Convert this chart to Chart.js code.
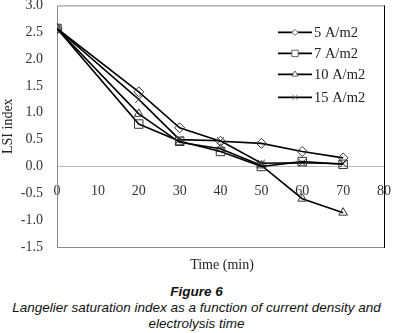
<!DOCTYPE html>
<html>
<head>
<meta charset="utf-8">
<script src="https://cdn.jsdelivr.net/npm/chart.js@4/dist/chart.umd.min.js"></script>
<style>
  body { margin: 0; background: #fff; width: 393px; height: 333px; overflow: hidden; }
  #wrap { position: relative; width: 407px; height: 289px; margin-top: -17px; }
  .cap { width: 393px; font-family: "Liberation Sans", Arial, sans-serif; font-style: italic; font-size: 13.5px; color: #111; text-align: center; line-height: 16px; }
  .cap b { display: block; font-size: 13.5px; }
</style>
</head>
<body>
<div id="wrap"><canvas id="lsiChart"></canvas></div>
<div class="cap" style="margin-top: 12px;"><b>Figure 6</b>Langelier saturation index as a function of current density and<br>electrolysis time</div>
<script>
// DATA
const times = [0, 20, 30, 40, 50, 60, 70];
const labels = ['5 A/m2', '7 A/m2', '10 A/m2', '15 A/m2'];
const lsi5 = [2.57, 1.39, 0.72, 0.47, 0.43, 0.28, 0.16];
const lsi7 = [2.57, 0.79, 0.47, 0.28, 0.0, 0.09, 0.04];
const lsi10 = [2.57, 0.98, 0.45, 0.33, 0.02, -0.60, -0.86];
const lsi15 = [2.57, 1.25, 0.50, 0.48, 0.06, 0.07, 0.05];
const yTicks = [-1.5, -1.0, -0.5, 0.0, 0.5, 1.0, 1.5, 2.0, 2.5, 3.0];
const xTicks = [0, 10, 20, 30, 40, 50, 60, 70, 80];

const series = [lsi5, lsi7, lsi10, lsi15];
const styles = ['rectRot', 'rect', 'triangle', 'crossRot'];
const radii = [5, 6, 5, 5];
const legendRadii = [3, 4.5, 3.5, 3.5];
const legendRows = [27, 48, 69, 92]; // offsets below plot top

const serif = '"Liberation Serif", "Times New Roman", serif';

function toPoints(vals) {
  return vals.map((v, i) => ({ x: times[i], y: v }));
}

// plot frame + legend + x title
const decor = {
  id: 'decor',
  beforeDatasetsDraw(chart) {
    const { ctx } = chart;
    const L = chart.scales.x.left, R = chart.scales.x.right;
    const T = chart.scales.y.top, B = chart.scales.y.bottom;
    ctx.save();
    ctx.strokeStyle = '#8a8a8a';
    ctx.lineWidth = 1;
    ctx.beginPath();
    ctx.moveTo(R, T + 0.5);
    ctx.lineTo(L + 0.5, T + 0.5);
    ctx.lineTo(L + 0.5, B + 0.5);
    ctx.lineTo(R, B + 0.5);
    ctx.stroke();
    ctx.strokeStyle = '#000';
    ctx.beginPath();
    ctx.moveTo(R + 0.5, T);
    ctx.lineTo(R + 0.5, B + 1);
    ctx.stroke();
    ctx.restore();
  },
  afterDraw(chart) {
    const { ctx } = chart;
    const T = chart.scales.y.top, B = chart.scales.y.bottom;
    ctx.save();
    ctx.font = '14.5px ' + serif;
    ctx.textBaseline = 'middle';
    chart.data.datasets.forEach((ds, i) => {
      const y = T + legendRows[i];
      const x0 = 278;
      ctx.strokeStyle = '#000';
      ctx.lineWidth = 1.6;
      ctx.beginPath();
      ctx.moveTo(x0, y);
      ctx.lineTo(x0 + 34, y);
      ctx.stroke();
      ctx.strokeStyle = '#666';
      ctx.fillStyle = '#fff';
      ctx.lineWidth = 1;
      Chart.helpers.drawPoint(ctx, { pointStyle: ds.pointStyle, radius: legendRadii[i], borderWidth: 1 }, x0 + 17, y);
      ctx.fillStyle = '#222';
      ctx.fillText(ds.label, x0 + 36, y + 1);
    });
    ctx.textAlign = 'center';
    ctx.font = '14px ' + serif;
    ctx.fillText('Time (min)', 222, B + 18);
    ctx.restore();
  }
};

new Chart(document.getElementById('lsiChart'), {
  type: 'line',
  data: {
    datasets: series.map((vals, i) => ({
      label: labels[i],
      data: toPoints(vals),
      borderColor: '#000',
      borderWidth: 1.6,
      pointStyle: styles[i],
      pointRadius: radii[i],
      pointBorderColor: '#333',
      pointBorderWidth: 1,
      pointBackgroundColor: 'rgba(255,255,255,0)',
      tension: 0
    }))
  },
  options: {
    responsive: true,
    maintainAspectRatio: false,
    animation: false,
    events: [],
    layout: { padding: { left: 0, right: 0, top: 0, bottom: 25 } },
    plugins: { legend: { display: false }, tooltip: { enabled: false } },
    scales: {
      x: {
        type: 'linear',
        position: { y: 0 },
        min: 0, max: 80,
        afterBuildTicks: s => { s.ticks = xTicks.map(v => ({ value: v })); },
        grid: { display: false, drawTicks: false },
        border: { display: false },
        ticks: { padding: 16, color: '#333', font: { family: serif, size: 14 } }
      },
      y: {
        min: -1.5, max: 3.0,
        afterBuildTicks: s => { s.ticks = yTicks.map(v => ({ value: v })); },
        afterFit: s => { s.width = 57; },
        grid: {
          drawTicks: false,
          color: c => (c.tick && c.tick.value === 0 ? '#bdbdbd' : 'rgba(0,0,0,0)'),
          lineWidth: 1
        },
        border: { display: false },
        ticks: { padding: 14, color: '#333', font: { family: serif, size: 14 }, callback: v => v.toFixed(1) },
        title: { display: true, text: 'LSI index', color: '#222', font: { family: serif, size: 14 }, padding: { top: 0, bottom: 0 } }
      }
    }
  },
  plugins: [decor]
});
</script>
</body>
</html>
